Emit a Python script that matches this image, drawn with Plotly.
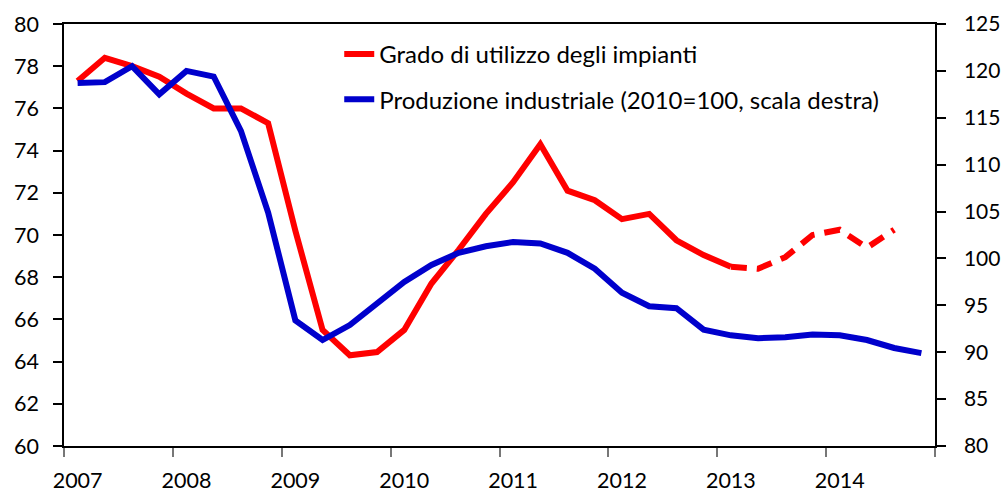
import plotly.graph_objects as go

years = list(range(2007, 2015))
quarters = [f"{y}-T{q}" for y in years for q in range(1, 5)]

# grado di utilizzo degli impianti (scala sinistra), 2007-T1 .. 2014-T3
utilizzo = [77.3, 78.4, 78.0, 77.5, 76.7, 76.0, 76.0, 75.3,
            70.2, 65.5, 64.3, 64.45, 65.5, 67.7, 69.3, 71.0,
            72.5, 74.3, 72.1, 71.65, 70.75, 71.0, 69.75, 69.05,
            68.5, 68.4, 68.95, 70.0, 70.25, 69.4, 70.25]
# produzione industriale (2010=100, scala destra), 2007-T1 .. 2014-T4
produzione = [118.7, 118.8, 120.5, 117.5, 120.0, 119.4, 113.6, 104.9,
              93.4, 91.3, 92.9, 95.2, 97.5, 99.3, 100.6, 101.3,
              101.75, 101.6, 100.6, 98.9, 96.35, 94.9, 94.7, 92.4,
              91.8, 91.5, 91.6, 91.9, 91.8, 91.3, 90.45, 89.9]
ultimo_definitivo = 24  # dal 2013-T1 la serie e' tratteggiata

x = list(range(len(quarters)))
tick_pos = [i for i, q in enumerate(quarters) if q.endswith("T1")]
tick_txt = [q[:4] for q in quarters if q.endswith("T1")]
bordi = [i - 0.5 for i in tick_pos] + [len(quarters) - 0.5]

RED = "#FF0000"
BLUE = "#0000CC"
FONT = "Lato, Calibri, sans-serif"

fig = go.Figure()
fig.add_trace(go.Scatter(
    x=x[:ultimo_definitivo + 1], y=utilizzo[:ultimo_definitivo + 1],
    mode="lines", line=dict(color=RED, width=6),
    name="Grado di utilizzo degli impianti", legendgroup="a",
))
fig.add_trace(go.Scatter(
    x=x[ultimo_definitivo:len(utilizzo)], y=utilizzo[ultimo_definitivo:],
    mode="lines", line=dict(color=RED, width=6, dash="16px,10px"),
    showlegend=False, legendgroup="a",
))
fig.add_trace(go.Scatter(
    x=x, y=produzione, yaxis="y2",
    mode="lines", line=dict(color=BLUE, width=6),
    name="Produzione industriale (2010=100, scala destra)", legendgroup="b",
))

axis_font = dict(family=FONT, size=21.5, color="black")

fig.update_layout(
    width=1004, height=493,
    template="plotly_white",
    plot_bgcolor="white", paper_bgcolor="white",
    margin=dict(l=64, r=69, t=24, b=47),
    font=axis_font,
    showlegend=True,
    legend=dict(x=0.316, y=0.981, xanchor="left", yanchor="top",
                bgcolor="rgba(0,0,0,0)", tracegroupgap=11,
                font=dict(family=FONT, size=24, color="black")),
    xaxis=dict(
        range=[-0.5, len(quarters) - 0.5],
        tickvals=tick_pos, ticktext=tick_txt, ticks="",
        showline=True, linecolor="black", linewidth=1.5, mirror=True,
        showgrid=False, zeroline=False, automargin=False,
        minor=dict(tickmode="array", tickvals=bordi, ticks="outside",
                   ticklen=9, tickwidth=1.5, tickcolor="#777777", showgrid=False),
        tickfont=axis_font, ticklabelstandoff=14,
    ),
    yaxis=dict(
        range=[60, 80], dtick=2, ticks="outside", ticklen=9, tickwidth=1.5,
        tickcolor="black", showline=True, linecolor="black", linewidth=1.5,
        showgrid=False, zeroline=False, tickfont=axis_font, automargin=False,
        ticklabelstandoff=10,
    ),
    yaxis2=dict(
        range=[80, 125], dtick=5, overlaying="y", side="right",
        ticks="outside", ticklen=9, tickwidth=1.5, tickcolor="black",
        showline=True, linecolor="black", linewidth=1.5,
        showgrid=False, zeroline=False, automargin=False,
        tickfont=dict(family=FONT, size=21, color="black"),
        ticklabelstandoff=14,
    ),
)

# niente margine del body, cosi' il grafico parte dall'angolo della pagina
fig.write_html("out.html", config={"displayModeBar": False},
               post_script="document.body.style.margin='0';")
